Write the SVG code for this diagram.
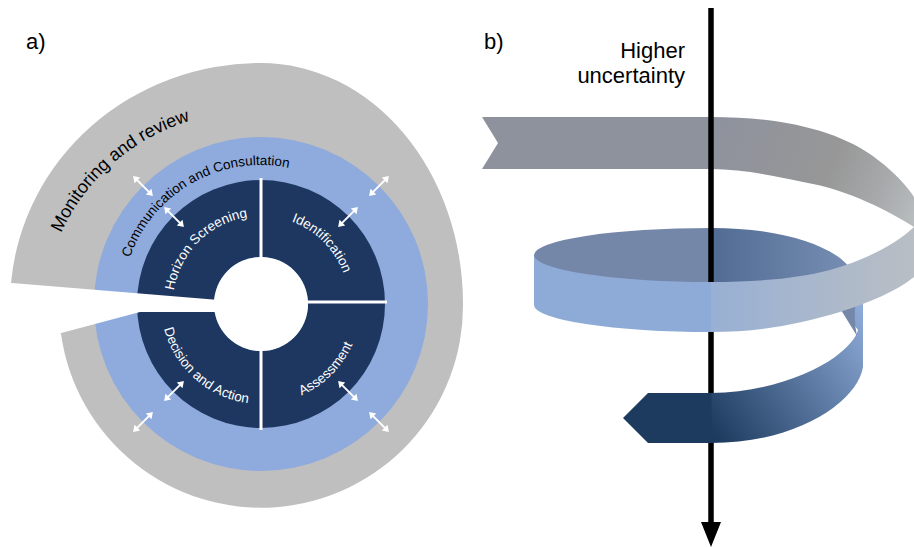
<svg xmlns="http://www.w3.org/2000/svg" width="914" height="547" viewBox="0 0 914 547">
<defs>
<style>
.lbl{font-family:"Liberation Sans",Arial,sans-serif;}
.wt{fill:#fff;font-size:13.5px;}
.sector{fill:#1d3760;}
.arr{fill:#fff;stroke:none;}
</style>
<g id="dbl">
<line x1="-9" y1="0" x2="9" y2="0" stroke="#fff" stroke-width="2"/>
<polygon class="arr" points="14,0 8,-4 8,4"/>
<polygon class="arr" points="-14,0 -8,-4 -8,4"/>
</g>
<path id="tp-mon" d="M46.5,363.2 A208,208 0 0 1 321.1,124.5"/>
<path id="tp-com" d="M122,301.6 A139,139 0 0 1 330.5,183.6"/>
<path id="tp-hor" d="M173,304 A88,88 0 0 1 261,216"/>
<path id="tp-ide" d="M261,216 A88,88 0 0 1 349,304"/>
<path id="tp-dec" d="M161.2,310.1 A100,100 0 0 0 267.1,403.8"/>
<path id="tp-ass" d="M261,404 A100,100 0 0 0 361,304"/>
<linearGradient id="gGray" gradientUnits="userSpaceOnUse" x1="711" y1="140" x2="914" y2="225">
<stop offset="0" stop-color="#8e929d"/>
<stop offset="0.55" stop-color="#979797"/>
<stop offset="0.8" stop-color="#a7a9ab"/>
<stop offset="1" stop-color="#b9bdbe"/>
</linearGradient>
<linearGradient id="gFront" gradientUnits="userSpaceOnUse" x1="534" y1="0" x2="914" y2="0">
<stop offset="0" stop-color="#8eabd8"/>
<stop offset="0.4658" stop-color="#8eabd8"/>
<stop offset="0.4658" stop-color="#98b0d4"/>
<stop offset="1" stop-color="#b9bec4"/>
</linearGradient>
<linearGradient id="gTop" gradientUnits="userSpaceOnUse" x1="534" y1="0" x2="863" y2="0">
<stop offset="0" stop-color="#7587a8"/>
<stop offset="0.538" stop-color="#7587a8"/>
<stop offset="0.538" stop-color="#516b93"/>
<stop offset="1" stop-color="#7a91b5"/>
</linearGradient>
<linearGradient id="gLow" gradientUnits="userSpaceOnUse" x1="711" y1="430" x2="870" y2="320">
<stop offset="0" stop-color="#1d3a5f"/>
<stop offset="1" stop-color="#8eabd8"/>
</linearGradient>
</defs>
<rect width="914" height="547" fill="#fff"/>

<!-- panel a -->
<g id="monitoring-review">
<path d="M61,334 A202,202 0 0 0 463,304 A202,241 0 0 0 261,63 A250,241 0 0 0 11,283 Z" fill="#bfbfbf"/>
<text class="lbl" font-size="18" fill="#000"><textPath href="#tp-mon" startOffset="50%" text-anchor="middle">Monitoring and review</textPath></text>
</g>
<g id="communication-consultation">
<circle cx="261" cy="304" r="167" fill="#8faadc"/>
<text class="lbl" font-size="13.5" fill="#000"><textPath href="#tp-com" startOffset="50%" text-anchor="middle">Communication and Consultation</textPath></text>
</g>
<g id="horizon-screening">
<path class="sector" d="M137,304 A124,124 0 0 1 261,180 L261,257 A47,47 0 0 0 214,304 Z"/>
<text class="lbl wt"><textPath href="#tp-hor" startOffset="50%" text-anchor="middle">Horizon Screening</textPath></text>
</g>
<g id="identification">
<path class="sector" d="M261,180 A124,124 0 0 1 385,304 L308,304 A47,47 0 0 0 261,257 Z"/>
<text class="lbl wt"><textPath href="#tp-ide" startOffset="50%" text-anchor="middle">Identification</textPath></text>
</g>
<g id="assessment">
<path class="sector" d="M385,304 A124,124 0 0 1 261,428 L261,351 A47,47 0 0 0 308,304 Z"/>
<text class="lbl wt"><textPath href="#tp-ass" startOffset="50%" text-anchor="middle">Assessment</textPath></text>
</g>
<g id="decision-action">
<path class="sector" d="M261,428 A124,124 0 0 1 137,304 L214,304 A47,47 0 0 0 261,351 Z"/>
<text class="lbl wt"><textPath href="#tp-dec" startOffset="50%" text-anchor="middle">Decision and Action</textPath></text>
</g>
<g id="dividers" stroke="#fff" stroke-width="3">
<line x1="261" y1="178" x2="261" y2="430"/>
<line x1="261" y1="302" x2="387" y2="302"/>
</g>
<g id="center-gap" fill="#fff">
<circle cx="261" cy="304" r="47"/>
<polygon points="0,282 219,300 219,312 140,312 50,336 0,336"/>
</g>
<g id="connectors">
<use href="#dbl" transform="translate(143,186) rotate(45)"/>
<use href="#dbl" transform="translate(174,217) rotate(45)"/>
<use href="#dbl" transform="translate(379,186) rotate(-45)"/>
<use href="#dbl" transform="translate(348,217) rotate(-45)"/>
<use href="#dbl" transform="translate(143,422) rotate(-45)"/>
<use href="#dbl" transform="translate(174,391) rotate(-45)"/>
<use href="#dbl" transform="translate(379,422) rotate(45)"/>
<use href="#dbl" transform="translate(348,391) rotate(45)"/>
</g>
<text class="lbl" x="26" y="49" font-size="22" fill="#000">a)</text>

<!-- panel b -->
<text class="lbl" x="484" y="49" font-size="22" fill="#000">b)</text>
<g id="spiral-top">
<path d="M482,117 L711,117 C780,117 840,130 878,160 C895,173 907,186 914,197 L914,227 C890,212 850,190 803,182 C770,175 740,169 711,169 L482,169 L498,143 Z" fill="url(#gGray)"/>
</g>
<g id="spiral-inner">
<path d="M534,255 A177,27 0 0 1 711,228 C770,228 815,240 840,258 C855,270 863,285 863,300 L850,300 L711,290 L534,280 Z" fill="url(#gTop)"/>
</g>
<g id="axis">
<line x1="711" y1="8" x2="711" y2="526" stroke="#000" stroke-width="5.5"/>
<polygon points="701,522 721,522 711,547" fill="#000"/>
</g>
<g id="spiral-bottom">
<path d="M711,393 C765,392 810,375 835,357 C848,347 856,338 858,330 L838,304 L863,290 L863,367 C858,400 800,443 711,443 Z" fill="url(#gLow)"/>
<path d="M838,305 L857,336 Q853,318 856,300 Z" fill="#7588aa"/>
<polygon points="711.5,393 648,393 623,418 648,443 711.5,443" fill="#1d3a5f"/>
</g>
<g id="spiral-front">
<path d="M534,255 A177,27 0 0 0 711,282 C760,282 800,278 830,270 C865,260 895,245 914,227 L914,277 C895,292 870,302 840,312 C800,324 760,332 711,332 A177,27 0 0 1 534,305 Z" fill="url(#gFront)"/>
</g>
<text class="lbl" font-size="22" fill="#000" text-anchor="end"><tspan x="685" y="58">Higher</tspan><tspan x="685" y="83">uncertainty</tspan></text>
</svg>
